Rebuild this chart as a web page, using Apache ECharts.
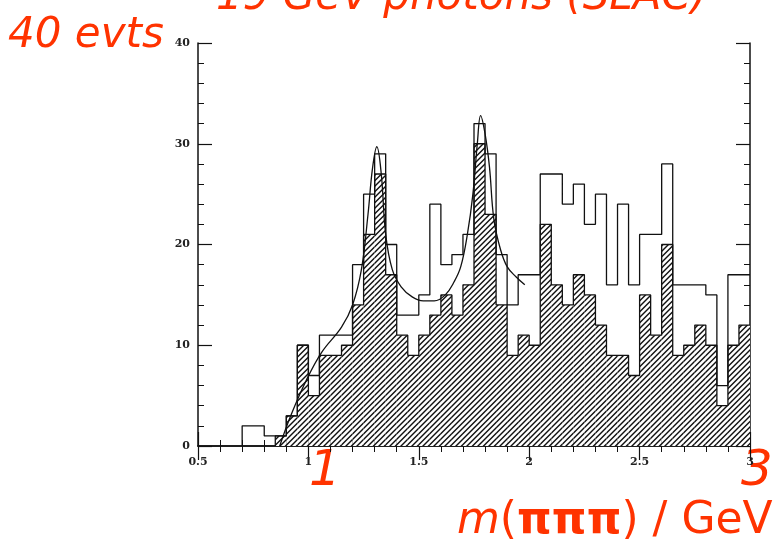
<!DOCTYPE html>
<html><head><meta charset="utf-8">
<script src="https://cdn.jsdelivr.net/npm/echarts@6/dist/echarts.min.js"></script>
<style>html,body{margin:0;padding:0;background:#fff}#c{width:781px;height:545px}</style>
</head><body><div id="c"></div>
<script>
// ---- data ----
const binStart = 0.70;
const binWidth = 0.05;
const openCounts    = [2,2,1,1,3,10,7,11,11,11,18,25,29,20,13,13,15,24,18,19,21,32,29,19,14,17,17,27,27,24,26,22,25,16,24,16,21,21,28,16,16,16,15,6,17,17];
const hatchedCounts = [0,0,0,1,3,10,5,9,9,10,14,21,27,17,11,9,11,13,15,13,16,30,23,14,9,11,10,22,16,14,17,15,12,9,9,7,15,11,20,9,10,12,10,4,10,12];
const fitX = [0.87,0.92,0.99,1.06,1.15,1.20,1.24,1.27,1.29,1.31,1.33,1.35,1.38,1.42,1.47,1.52,1.57,1.62,1.66,1.69,1.72,1.745,1.765,1.78,1.80,1.82,1.84,1.87,1.90,1.94,1.98];
const fitY = [0,3,6.5,9.3,11.8,14,17.5,23,27.5,29.7,27,21,17.5,15.8,14.8,14.4,14.4,15,16.3,17.8,21,25,30,32.8,31,27.7,22.5,19.5,17.8,16.8,16];
const xTicks = [0.5,1,1.5,2,2.5,3];
const yTicks = [0,10,20,30,40];
const titleText = '19 GeV photons (SLAC)';
const yNote = '40 evts';
const xNote1 = '1';
const xNote3 = '3';

const RED = '#ff3300';
const RFONT = 'DejaVu Sans';

// hatch pattern: lines x+y=c
const tile = document.createElement('canvas');
tile.width = 11; tile.height = 11;
const tc = tile.getContext('2d');
tc.fillStyle = '#fff'; tc.fillRect(0,0,11,11);
tc.strokeStyle = '#111'; tc.lineWidth = 1.4;
[0, 5.5, 11, 16.5, 22].forEach(function(c){
  tc.beginPath(); tc.moveTo(-2, c+2); tc.lineTo(c+2, -2); tc.stroke();
});
const hatch = {image: tile, repeat: 'repeat'};

function stepData(counts){
  const d = [];
  const first = counts.findIndex(v => v > 0);
  d.push([+(binStart + first*binWidth).toFixed(3), 0]);
  for (let i = first; i < counts.length; i++) d.push([+(binStart + i*binWidth).toFixed(3), counts[i]]);
  d.push([+(binStart + counts.length*binWidth).toFixed(3), counts[counts.length-1]]);
  return d;
}
const hatchBins = hatchedCounts.map((v,i)=>[+(binStart+i*binWidth).toFixed(3), +(binStart+(i+1)*binWidth).toFixed(3), v]);

const chart = echarts.init(document.getElementById('c'), null, {renderer:'canvas'});
const axisFont = {fontFamily:'DejaVu Serif', fontWeight:'bold', fontSize:11, color:'#222'};
const xCommon = {type:'value', min:0.5, max:3, interval:0.5,
  axisLine:{show:true, lineStyle:{color:'#111', width:1.5}},
  axisTick:{show:true, inside:true, length:14, lineStyle:{color:'#111', width:1.2}},
  minorTick:{show:true, splitNumber:5, length:6, lineStyle:{color:'#111', width:1}},
  splitLine:{show:false}};
const yCommon = {type:'value', min:0, max:40, interval:10,
  axisLine:{show:true, lineStyle:{color:'#111', width:1.5}},
  axisTick:{show:true, inside:true, length:14, lineStyle:{color:'#111', width:1.2}},
  minorTick:{show:true, splitNumber:5, length:6, lineStyle:{color:'#111', width:1}},
  splitLine:{show:false}};

chart.setOption({
  animation:false,
  backgroundColor:'#fff',
  grid:{left:198, right:31, top:43, bottom:99},
  xAxis:[
    Object.assign({}, xCommon, {position:'bottom', axisLabel:Object.assign({margin:11, formatter:function(v){return xTicks.indexOf(v)>=0? String(v):'';}}, axisFont)}),
    Object.assign({}, xCommon, {position:'top', axisLabel:{show:false}})
  ],
  yAxis:[
    Object.assign({}, yCommon, {position:'left', axisLabel:Object.assign({margin:8, formatter:function(v){return yTicks.indexOf(v)>=0? String(v):'';}}, axisFont)}),
    Object.assign({}, yCommon, {position:'right', axisLabel:{show:false}})
  ],
  series:[
    {type:'custom', z:1, data:hatchBins, encode:{x:[0,1], y:2},
      renderItem:function(params, api){
        const p0 = api.coord([api.value(0), api.value(2)]);
        const p1 = api.coord([api.value(1), 0]);
        return {type:'rect', shape:{x:p0[0], y:p0[1], width:p1[0]-p0[0], height:p1[1]-p0[1]}, style:{fill:hatch, stroke:null}};
      }},
    {type:'line', z:3, step:'end', data:stepData(hatchedCounts), symbol:'none', lineStyle:{color:'#111', width:1.3}},
    {type:'line', z:3, step:'end', data:stepData(openCounts), symbol:'none', lineStyle:{color:'#111', width:1.3}},
    {type:'line', z:4, smooth:0.4, data:fitX.map((x,i)=>[x, fitY[i]]), symbol:'none', lineStyle:{color:'#111', width:1.3}}
  ],
  graphic:[
    {type:'text', left:216, top:-23, style:{text:titleText, font:'oblique 42px "'+RFONT+'"', fill:RED}},
    {type:'text', left:8, top:15, style:{text:yNote, font:'oblique 42px "'+RFONT+'"', fill:RED}},
    {type:'text', left:309, top:447, style:{text:xNote1, font:'oblique 50px "'+RFONT+'"', fill:RED}},
    {type:'text', left:741, top:447, style:{text:xNote3, font:'oblique 50px "'+RFONT+'"', fill:RED}},
    {type:'text', left:457, top:500, style:{rich:{m:{font:'oblique 44px "'+RFONT+'"', fill:RED}, r:{font:'44px "'+RFONT+'"', fill:RED}, b:{font:'bold 44px "'+RFONT+'"', fill:RED}}, text:'{m|m}{r|(}{b|πππ}{r|) / GeV}'}}
  ]
});
</script></body></html>
